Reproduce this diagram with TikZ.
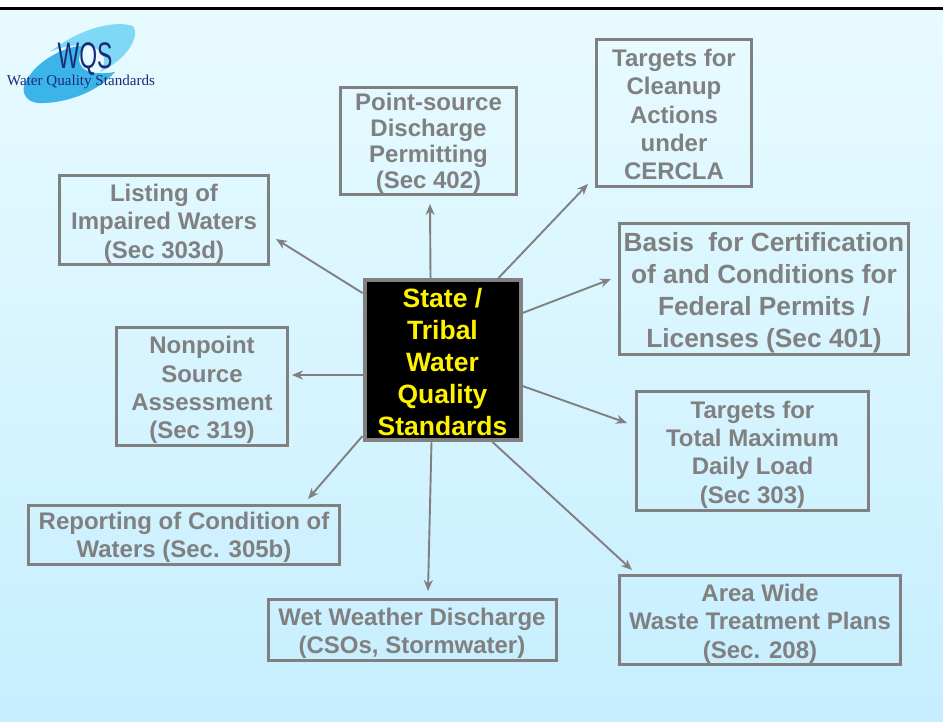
\documentclass[tikz,border=0pt]{standalone}
\usepackage{fontspec}
\setmainfont{Liberation Sans}
\newfontfamily\logofont{Liberation Serif}
\usetikzlibrary{arrows.meta,calc}
\definecolor{bgtop}{HTML}{E8FBFF}
\definecolor{bgbot}{HTML}{C6EEFF}
\definecolor{boxgray}{HTML}{808080}
\definecolor{logoblue}{HTML}{3BB4EA}
\definecolor{logolight}{HTML}{7FD8F5}
\definecolor{logonavy}{HTML}{1B2A78}
\newcommand{\td}[1]{\rule{0pt}{#1pt}}
\tikzset{
  x=1pt,y=-1pt,
  infobox/.style={draw=boxgray,line width=3pt,text=boxgray,align=center,inner sep=0pt,
    font=\fontsize{24}{#1}\selectfont\bfseries},
  infobox/.default=28.4,
  hubbox/.style={draw=boxgray,line width=4pt,fill=black,text=yellow,align=center,inner sep=0pt,
    font=\fontsize{26.5}{32}\selectfont\bfseries},
  link/.style={draw=boxgray,line width=1.9pt,-{Stealth[length=11pt,width=9pt]}},
}
\begin{document}
\begin{tikzpicture}
\useasboundingbox (0,0) rectangle (943,721);
\shade[top color=bgtop,bottom color=bgbot] (0,8) rectangle (943,721);
\fill[white] (0,0) rectangle (943,7);
\fill[black] (0,7) rectangle (943,9.5);
% logo
\fill[logolight] (50,52) .. controls (80,28) and (115,20) .. (133,26)
  .. controls (140,34) and (130,58) .. (100,72)
  .. controls (110,60) and (102,47) .. (85,45)
  .. controls (72,45) and (60,47) .. (50,52) -- cycle;
\fill[logoblue] (24,86) .. controls (30,68) and (55,48) .. (85,45)
  .. controls (72,62) and (80,78) .. (115,72)
  .. controls (95,95) and (60,104) .. (38,103)
  .. controls (28,102) and (22,95) .. (24,86) -- cycle;
\node[text=logonavy,font=\fontsize{37}{37}\selectfont,inner sep=0pt,xscale=.62] (logoname) at (85,59) {WQS};
\node[text=logonavy,font=\logofont\fontsize{15.1}{15}\selectfont,inner sep=0pt] (logotext) at (81,82) {Water Quality Standards};
% boxes
\node[infobox=26,minimum width=176pt,minimum height=107pt] (point) at (428.5,141) {\td{22.5}Point-source\\Discharge\\Permitting\\(Sec 402)};
\node[infobox,minimum width=155pt,minimum height=147pt] (cleanup) at (674,113) {\td{20.5}Targets for\\Cleanup\\Actions\\under\\CERCLA};
\node[infobox=32,minimum width=289pt,minimum height=131pt,font=\fontsize{26.3}{32}\selectfont\bfseries] (cert) at (764,289) {\td{26}Basis\ \ for Certification\\of and Conditions for\\Federal Permits /\\Licenses (Sec 401)};
\node[infobox,minimum width=232pt,minimum height=119pt] (tmdl) at (752.5,451) {\td{24.5}Targets for\\Total Maximum\\Daily Load\\(Sec 303)};
\node[infobox,minimum width=281pt,minimum height=89pt] (area) at (760,620) {\td{24.5}Area Wide\\Waste Treatment Plans\\(Sec. 208)};
\node[infobox,minimum width=288pt,minimum height=61pt] (wet) at (412,630) {\td{24.5}Wet Weather Discharge\\(CSOs, Stormwater)};
\node[infobox,minimum width=311pt,minimum height=59pt] (report) at (184,535) {\td{22.5}Reporting of Condition of\\Waters (Sec. 305b)};
\node[infobox,minimum width=171pt,minimum height=118pt] (nonpoint) at (202,386.5) {\td{24.5}Nonpoint\\Source\\Assessment\\(Sec 319)};
\node[infobox,minimum width=209pt,minimum height=89pt] (listing) at (164,220) {\td{24.5}Listing of\\Impaired Waters\\(Sec 303d)};
\node[hubbox,minimum width=156pt,minimum height=160pt] (hub) at (442.5,360) {\td{23.5}State /\\Tribal\\Water\\Quality\\Standards};
% connector free ends
\coordinate (tipPoint) at (430,204);
\coordinate (tipCleanup) at (588,184);
\coordinate (tipCert) at (611,279);
\coordinate (tipTmdl) at (627,423);
\coordinate (tipArea) at (632,570);
\coordinate (tipWet) at (428,591);
\coordinate (tipReport) at (308,499);
\coordinate (tipNonpoint) at (292,375);
\coordinate (tipListing) at (276,239);
\draw[link] ($(hub.north)+(-12,0)$) -- (tipPoint);
\draw[link] ($(hub.north east)+(-24,0)$) -- (tipCleanup);
\draw[link] ($(hub.north east)+(0,35)$) -- (tipCert);
\draw[link] ($(hub.south east)+(0,-56)$) -- (tipTmdl);
\draw[link] ($(hub.south east)+(-30,0)$) -- (tipArea);
\draw[link] ($(hub.south)+(-11,0)$) -- (tipWet);
\draw[link] ($(hub.south west)+(0,-6)$) -- (tipReport);
\draw[link] ($(hub.west)+(0,15)$) -- (tipNonpoint);
\draw[link] ($(hub.north west)+(0,15)$) -- (tipListing);
\end{tikzpicture}
\end{document}
